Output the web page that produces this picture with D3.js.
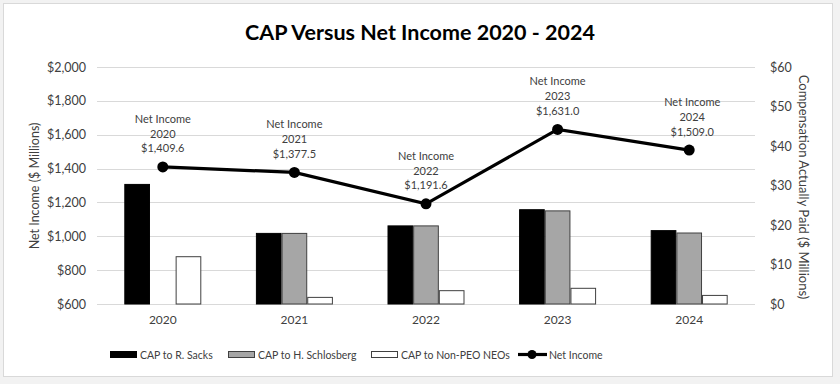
<!DOCTYPE html>
<html>
<head>
<meta charset="utf-8">
<script src="https://cdn.jsdelivr.net/npm/d3@7"></script>
<style>
  body { margin: 0; background: #f2f2f2; }
  svg { display: block; font-family: Lato, "Open Sans", sans-serif; }
</style>
</head>
<body>
<div id="chart"></div>
<script>
// values
var years = ['2020', '2021', '2022', '2023', '2024']
var capSacks = [30.4, 18.0, 19.9, 24.0, 18.7]
var capSchlosberg = [0, 18.0, 19.9, 23.7, 18.1]
var capNonPeo = [12.1, 1.8, 3.5, 4.1, 2.3]
var netIncome = [1409.6, 1377.5, 1191.6, 1631.0, 1509.0]
var leftTicks = [600, 800, 1000, 1200, 1400, 1600, 1800, 2000]
var rightTicks = [0, 10, 20, 30, 40, 50, 60]

var seriesNames = ['CAP to R. Sacks', 'CAP to H. Schlosberg', 'CAP to Non-PEO NEOs']
var seriesVals = [capSacks, capSchlosberg, capNonPeo]
var fills = ['#000000', '#a6a6a6', '#ffffff']
var strokes = ['#000000', '#404040', '#404040']

var W = 840, H = 384
var svg = d3.select('#chart').append('svg')
    .attr('width', W).attr('height', H)

svg.append('rect').attr('width', W).attr('height', H).attr('fill', '#f2f2f2')
svg.append('rect')
    .attr('x', 3.5).attr('y', 3.5).attr('width', 829).attr('height', 373)
    .attr('fill', '#fff').attr('stroke', '#d9d9d9')

var plot = { left: 97, right: 755, top: 67, bottom: 304 }

var x = d3.scaleBand().domain(years).range([plot.left, plot.right])
var yL = d3.scaleLinear().domain([600, 2000]).range([plot.bottom, plot.top])
var yR = d3.scaleLinear().domain([0, 60]).range([plot.bottom, plot.top])
var xs = d3.scaleBand().domain(d3.range(3)).range([0, x.bandwidth() * 0.585])
var groupOff = (x.bandwidth() - xs.range()[1]) / 2

// gridlines
svg.append('g').selectAll('line').data(leftTicks).enter().append('line')
    .attr('x1', plot.left).attr('x2', plot.right)
    .attr('y1', d => Math.round(yL(d)) + 0.5).attr('y2', d => Math.round(yL(d)) + 0.5)
    .attr('stroke', '#d9d9d9').attr('stroke-width', 1)

// left axis
var leftAxis = svg.append('g')
    .attr('transform', 'translate(' + (plot.left - 11) + ',0)')
    .call(d3.axisLeft(yL).tickValues(leftTicks).tickSize(0).tickPadding(0)
      .tickFormat(d => '$' + d3.format(',')(d)))
leftAxis.select('.domain').remove()

var rightAxis = svg.append('g')
    .attr('transform', 'translate(' + (plot.right + 15) + ',0)')
    .call(d3.axisRight(yR).tickValues(rightTicks).tickSize(0).tickPadding(0)
      .tickFormat(d => '$' + d))
rightAxis.select('.domain').remove()

var bottomAxis = svg.append('g')
    .attr('transform', 'translate(0,' + (plot.bottom + 11) + ')')
    .call(d3.axisBottom(x).tickSize(0).tickPadding(0))
bottomAxis.select('.domain').remove()

svg.selectAll('.tick text')
    .attr('font-family', 'Lato, sans-serif')
    .attr('font-size', 12.5)
    .attr('fill', '#404040')
bottomAxis.selectAll('.tick text').attr('font-size', 12)

// axis titles
svg.append('text')
    .attr('transform', 'translate(39,186) rotate(-90)')
    .attr('text-anchor', 'middle')
    .attr('font-size', 12.5).attr('fill', '#404040')
    .text('Net Income ($ Millions)')

svg.append('text')
    .attr('transform', 'translate(799,187) rotate(90)')
    .attr('text-anchor', 'middle')
    .attr('font-size', 13).attr('fill', '#404040')
    .text('Compensation Actually Paid ($ Millions)')

// title
svg.append('text')
    .attr('x', 420).attr('y', 40)
    .attr('text-anchor', 'middle')
    .attr('font-size', 21.5).attr('font-weight', 'bold')
    .attr('fill', '#000')
    .text('CAP Versus Net Income 2020 - 2024')

// bars
seriesVals.forEach(function (vals, si) {
  svg.append('g').selectAll('rect')
    .data(vals.map((v, i) => ({ year: years[i], v: v })).filter(d => d.v > 0))
    .enter().append('rect')
      .attr('x', d => x(d.year) + groupOff + xs(si) + 0.5)
      .attr('width', xs.bandwidth() - 1)
      .attr('y', d => yR(d.v) + 0.5)
      .attr('height', d => yR(0) - yR(d.v) - 0.5)
      .attr('fill', fills[si])
      .attr('stroke', strokes[si])
      .attr('stroke-width', 1)
})

// net income line
var line = d3.line()
    .x((d, i) => x(years[i]) + x.bandwidth() / 2)
    .y(d => yL(d))

svg.append('path')
    .datum(netIncome)
    .attr('d', line)
    .attr('fill', 'none')
    .attr('stroke', '#000')
    .attr('stroke-width', 3.2)

svg.append('g').selectAll('circle').data(netIncome).enter().append('circle')
    .attr('cx', (d, i) => x(years[i]) + x.bandwidth() / 2)
    .attr('cy', d => yL(d))
    .attr('r', 5.5)
    .attr('fill', '#000')

// data labels
var labels = svg.append('g').selectAll('text').data(netIncome).enter().append('text')
    .attr('text-anchor', 'middle')
    .attr('font-size', 11).attr('fill', '#404040')
    .attr('transform', (d, i) => 'translate(' + (x(years[i]) + x.bandwidth() / 2 + (i == 4 ? 3 : 0)) + ',' + (yL(d) - 44) + ')')
labels.append('tspan').attr('x', 0).attr('y', 0).text('Net Income')
labels.append('tspan').attr('x', 0).attr('y', 14.7).text((d, i) => years[i])
labels.append('tspan').attr('x', 0).attr('y', 29.4).text(d => '$' + d3.format(',.1f')(d))

// legend
var legend = svg.append('g').attr('font-size', 10.5).attr('fill', '#404040')
var legX = [110, 228, 371]
seriesNames.forEach(function (name, i) {
  legend.append('rect')
    .attr('x', legX[i] + 0.5).attr('y', 351.5)
    .attr('width', 26).attr('height', 6)
    .attr('fill', fills[i]).attr('stroke', strokes[i])
  legend.append('text')
    .attr('x', legX[i] + 30).attr('y', 358.5)
    .attr('fill', '#404040')
    .text(name)
})
legend.append('line')
    .attr('x1', 518).attr('x2', 547).attr('y1', 354.5).attr('y2', 354.5)
    .attr('stroke', '#000').attr('stroke-width', 3.2)
legend.append('circle').attr('cx', 532).attr('cy', 354.5).attr('r', 4.5).attr('fill', '#000')
legend.append('text')
    .attr('x', 549).attr('y', 358.5)
    .attr('fill', '#404040')
    .text('Net Income')
</script>
</body>
</html>
